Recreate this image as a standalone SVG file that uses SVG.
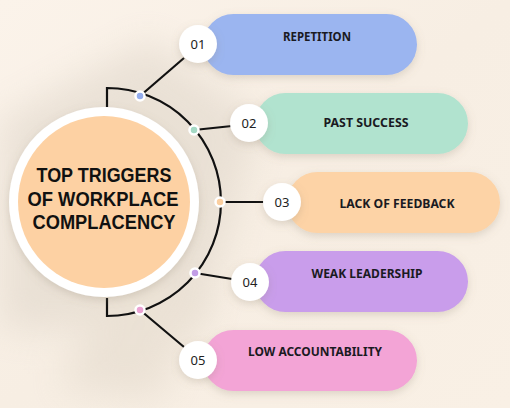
<svg xmlns="http://www.w3.org/2000/svg" width="510" height="408" viewBox="0 0 510 408">
<defs>
<filter id="blur" x="-50%" y="-50%" width="200%" height="200%"><feGaussianBlur stdDeviation="18"/></filter>
<filter id="sh" x="-20%" y="-40%" width="140%" height="180%"><feDropShadow dx="0" dy="3" stdDeviation="4" flood-color="#8a7a66" flood-opacity="0.25"/></filter>
<linearGradient id="bg" x1="0" y1="0" x2="1" y2="1">
<stop offset="0" stop-color="#fbf3ea"/>
<stop offset="0.5" stop-color="#f7eee3"/>
<stop offset="1" stop-color="#f9f0e5"/>
</linearGradient>
<style>
.num{font-family:"Noto Sans","Open Sans",sans-serif;font-size:13px;fill:#222;text-anchor:middle}
.lbl{font-family:"Noto Sans","Open Sans",sans-serif;font-size:13px;font-weight:bold;fill:#1a1a22;text-anchor:middle}
.ttl{font-family:"Liberation Sans",Arial,sans-serif;font-size:20px;font-weight:bold;fill:#111;text-anchor:middle}
.conn{fill:none;stroke:#111;stroke-width:2.2}
.nc{fill:#fff;filter:url(#sh)}
.dot{stroke:#fff;stroke-width:2.5}
</style>
</defs>
<rect width="510" height="408" fill="url(#bg)"/>
<g opacity="0.45">
<path d="M0,120 L150,40 L260,120 L200,330 L0,330 Z" fill="#d8cfc2" filter="url(#blur)"/>
<path d="M120,250 L200,300 L160,400 L60,390 Z" fill="#ddd3c5" filter="url(#blur)"/>
</g>
<g id="connectors">
<path class="conn" d="M107,107 L107,88 A114,114 0 0 1 107,316 L107,298"/>
<line class="conn" x1="140" y1="96" x2="184" y2="58"/>
<line class="conn" x1="194" y1="130" x2="232" y2="126"/>
<line class="conn" x1="220" y1="202" x2="264" y2="202"/>
<line class="conn" x1="195" y1="273" x2="232" y2="279"/>
<line class="conn" x1="140" y1="310" x2="184" y2="347"/>
</g>
<g id="center">
<circle cx="104" cy="202" r="95" fill="#fff" filter="url(#sh)"/>
<circle cx="104" cy="202" r="86" fill="#fdd1a3"/>
<text class="ttl" x="104" y="182" textLength="135" lengthAdjust="spacingAndGlyphs">TOP TRIGGERS</text>
<text class="ttl" x="103" y="205.5" textLength="151" lengthAdjust="spacingAndGlyphs">OF WORKPLACE</text>
<text class="ttl" x="104" y="229" textLength="143" lengthAdjust="spacingAndGlyphs">COMPLACENCY</text>
</g>
<g id="item1">
<rect x="203" y="14" width="214" height="61" rx="30.5" fill="#9bb5f0" filter="url(#sh)"/>
<circle class="nc" cx="198" cy="44" r="19"/>
<text class="num" x="198" y="49">01</text>
<text class="lbl" x="317" y="41" textLength="68" lengthAdjust="spacingAndGlyphs">REPETITION</text>
<circle class="dot" cx="140" cy="96" r="4.5" fill="#93acec"/>
</g>
<g id="item2">
<rect x="255" y="93" width="213" height="61" rx="30.5" fill="#b1e3cf" filter="url(#sh)"/>
<circle class="nc" cx="249" cy="123" r="19"/>
<text class="num" x="249" y="128">02</text>
<text class="lbl" x="366" y="127" textLength="85" lengthAdjust="spacingAndGlyphs">PAST SUCCESS</text>
<circle class="dot" cx="194" cy="130" r="4.5" fill="#a4d9c4"/>
</g>
<g id="item3">
<rect x="287" y="172" width="213" height="61" rx="30.5" fill="#fdd3a6" filter="url(#sh)"/>
<circle class="nc" cx="282" cy="202" r="19"/>
<text class="num" x="282" y="207">03</text>
<text class="lbl" x="397" y="208" textLength="115" lengthAdjust="spacingAndGlyphs">LACK OF FEEDBACK</text>
<circle class="dot" cx="220" cy="202" r="4.5" fill="#fbcfa0"/>
</g>
<g id="item4">
<rect x="255" y="251" width="213" height="61" rx="30.5" fill="#c99deb" filter="url(#sh)"/>
<circle class="nc" cx="250" cy="282" r="19"/>
<text class="num" x="250" y="287">04</text>
<text class="lbl" x="367" y="278" textLength="111" lengthAdjust="spacingAndGlyphs">WEAK LEADERSHIP</text>
<circle class="dot" cx="195" cy="273" r="4.5" fill="#c29de6"/>
</g>
<g id="item5">
<rect x="203" y="330" width="214" height="61" rx="30.5" fill="#f3a4d6" filter="url(#sh)"/>
<circle class="nc" cx="198" cy="360" r="19"/>
<text class="num" x="198" y="365">05</text>
<text class="lbl" x="315" y="356" textLength="134" lengthAdjust="spacingAndGlyphs">LOW ACCOUNTABILITY</text>
<circle class="dot" cx="140" cy="310" r="4.5" fill="#eaa2d2"/>
</g>
</svg>
